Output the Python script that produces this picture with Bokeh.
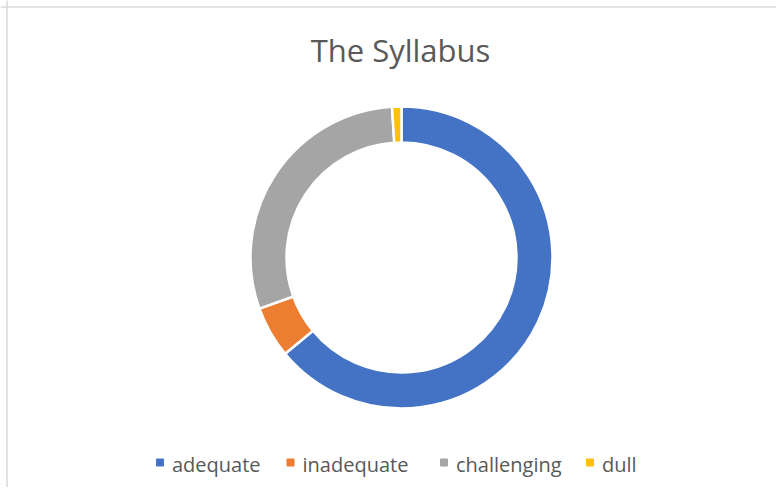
import math
from bokeh.plotting import figure
from bokeh.models import Range1d, Span, ColumnDataSource
from bokeh.core.properties import value
from bokeh.embed import file_html
from bokeh.resources import INLINE

# ---- data ----
categories = ["adequate", "inadequate", "challenging", "dull"]
shares = [64, 5.5, 29.5, 1]
colors = ["#4472C4", "#ED7D31", "#A5A5A5", "#FFC000"]
title_text = "The Syllabus"

# ---- layout (data x = pixel x, data y = 495 - pixel y, within the picture) ----
W, H = 776, 487
def Y(py):
    return 495 - py

cx, cy = 401, Y(257)
r_out, r_in = 151, 115
legend_x = [159.5, 290, 443.5, 589.5]

total = sum(shares)
starts, ends = [], []
acc = 0.0
for s in shares:
    a0 = acc / total
    acc += s
    a1 = acc / total
    # clockwise from 12 o'clock
    starts.append(math.pi / 2 - 2 * math.pi * a1)
    ends.append(math.pi / 2 - 2 * math.pi * a0)

src = ColumnDataSource(dict(cat=categories, start=starts, end=ends, color=colors))

p = figure(width=W, height=H, output_backend="svg", toolbar_location=None,
           x_range=Range1d(0, W), y_range=Range1d(495 - H, 495),
           min_border=0, outline_line_color=None)
p.axis.visible = False
p.grid.visible = False
p.background_fill_color = "white"
p.border_fill_color = "white"

p.annular_wedge(x=cx, y=cy, inner_radius=r_in, outer_radius=r_out,
                start_angle="start", end_angle="end", color="color",
                line_color="white", line_width=2.5, source=src)

# title
p.text(x=[400], y=[Y(49)], text=[title_text], text_align="center",
       text_baseline="alphabetic", text_font=value("Open Sans"),
       text_font_size="31px", text_color="#595959")

# legend
lsrc = ColumnDataSource(dict(x=legend_x, y=[Y(462)] * 4,
                             tx=[x + 12 for x in legend_x], ty=[Y(464)] * 4,
                             cat=categories, color=colors))
p.rect(x="x", y="y", width=7, height=7, width_units="screen", height_units="screen",
       color="color", source=lsrc)
p.text(x="tx", y="ty", text="cat", text_align="left", text_baseline="alphabetic",
       text_font=value("Open Sans"), text_font_size="20px", text_color="#595959",
       source=lsrc)

# chart border (top and left edges visible)
p.add_layout(Span(location=Y(6.5), dimension="width", line_color="#D9D9D9", line_width=1.5))
p.add_layout(Span(location=6.5, dimension="height", line_color="#D9D9D9", line_width=1.5))

open("out.html", "w").write(file_html(p, INLINE))
